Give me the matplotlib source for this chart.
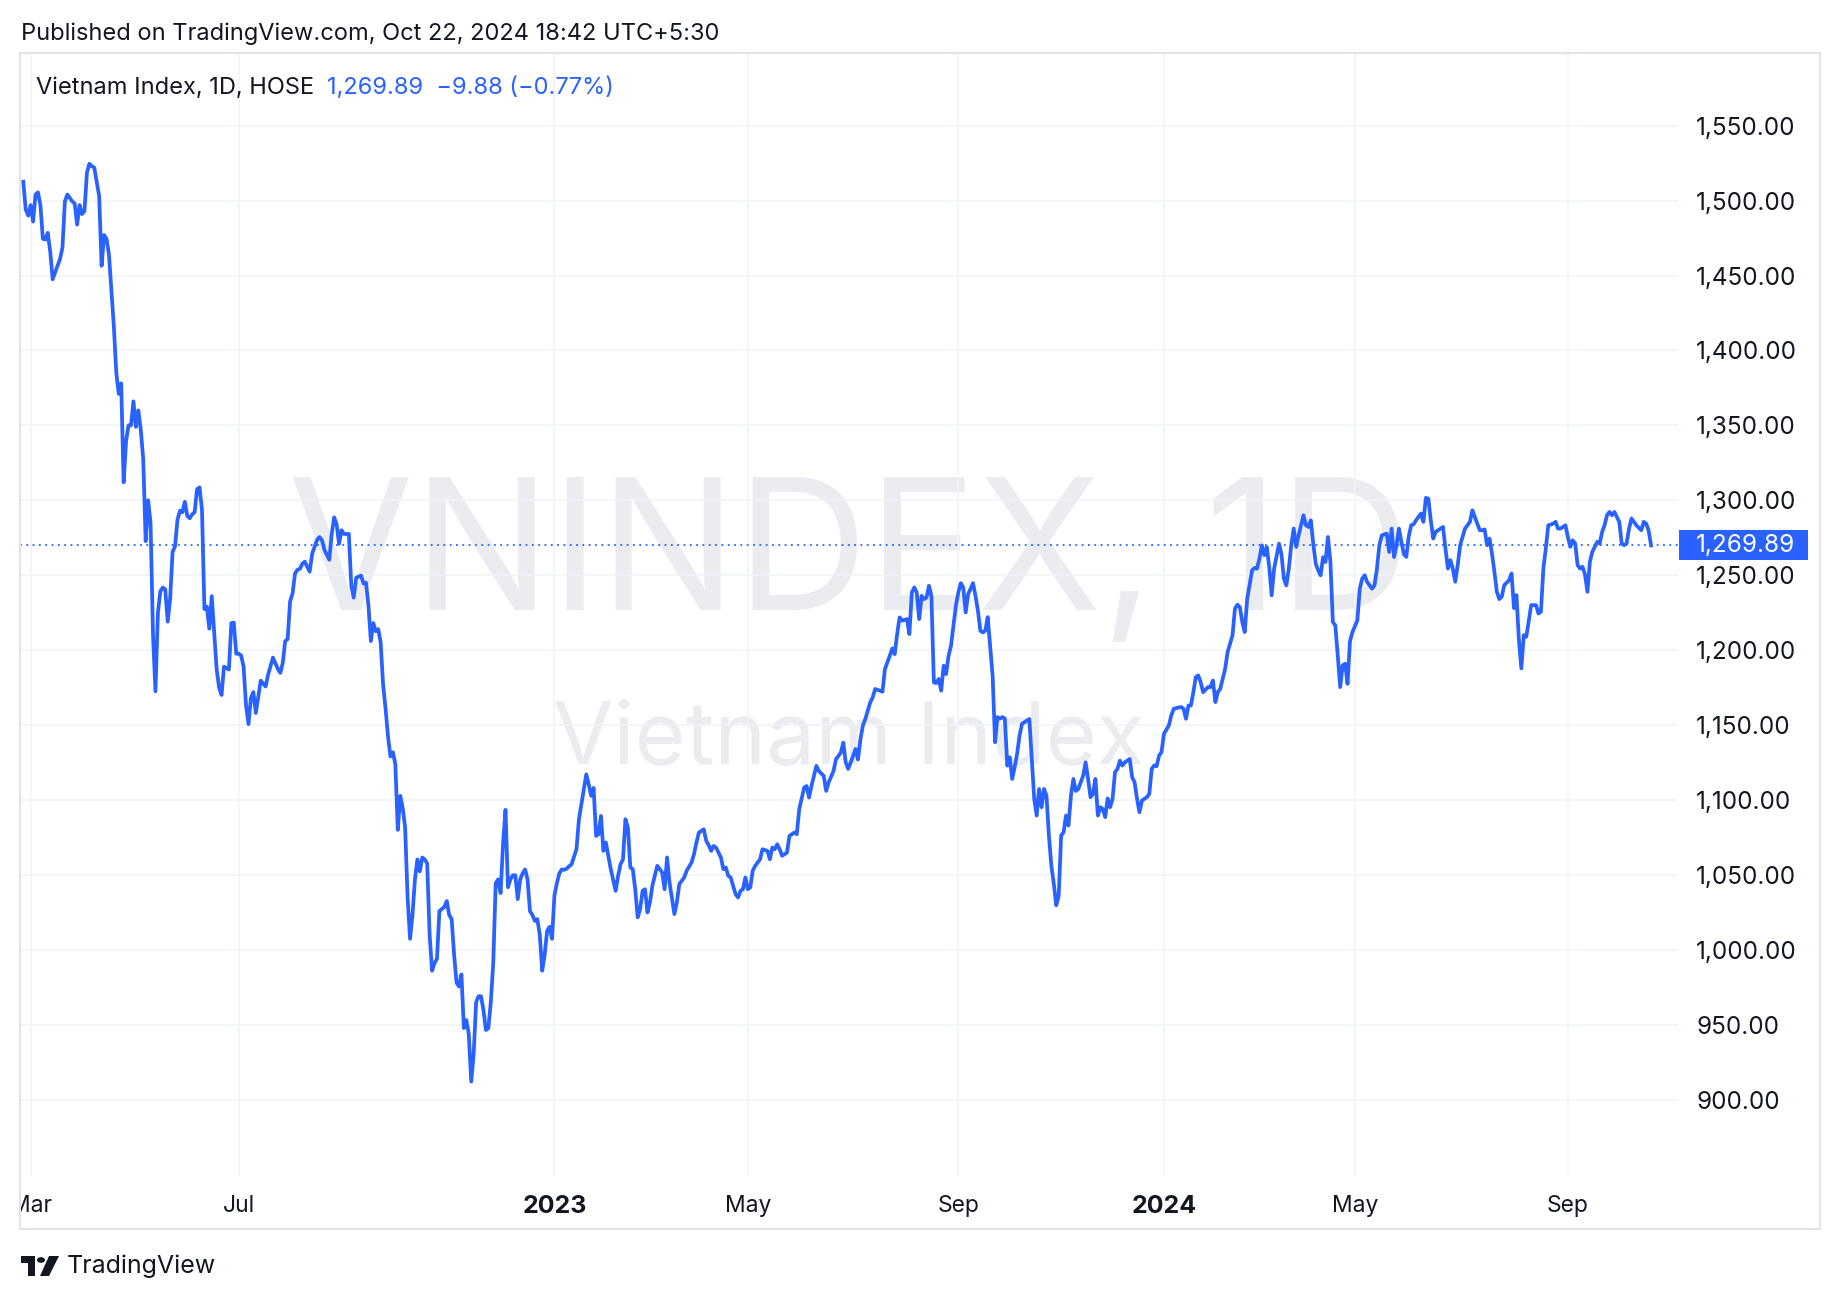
import numpy as np
import matplotlib
matplotlib.use('Agg')
from matplotlib import pyplot as plt
from matplotlib.patches import Rectangle, Circle, Polygon
from matplotlib.transforms import blended_transform_factory

W, H = 1840, 1300

# Daily bars are spaced by trading session, counted from the first bar on the chart;
FIRST_BAR = '2022-02-24'
HOSE_HOLIDAYS = [
    '2022-04-11', '2022-05-02', '2022-05-03', '2022-09-01', '2022-09-02',
    '2023-01-02', '2023-01-20', '2023-01-23', '2023-01-24', '2023-01-25',
    '2023-01-26', '2023-05-01', '2023-05-02', '2023-05-03', '2023-09-01',
    '2023-09-04', '2024-01-01', '2024-02-08', '2024-02-09', '2024-02-12',
    '2024-02-13', '2024-02-14', '2024-04-18', '2024-04-29', '2024-04-30',
    '2024-05-01', '2024-09-02', '2024-09-03',
]

# Time scale labels (first session of each labelled month);
tick_dates = ['2022-03-01', '2022-07-01', '2023-01-03', '2023-05-04',
              '2023-09-05', '2024-01-02', '2024-05-02', '2024-09-04']
tick_labels = ['Mar', 'Jul', '2023', 'May', 'Sep', '2024', 'May', 'Sep']
price_ticks = list(range(900, 1551, 50))

# Closes, keyed by session number;
sess_22a = [0, 1, 2, 3, 4, 5, 6, 7, 8, 9, 10, 11, 12, 14, 15, 16, 17, 18, 20, 21,
            22, 23, 24, 25, 26, 27, 28, 29, 31, 32, 33, 34, 35, 36, 37, 38, 39, 40, 41, 42,
            43, 44, 45, 46, 47, 48, 49, 50, 51, 52, 53, 54, 55, 56, 57, 58, 59, 60, 61, 62,
            63, 64, 65, 66, 67, 68, 69, 70, 71, 72, 73, 74, 75, 76, 77, 78, 79, 80, 81, 82,
            83, 84, 85, 86, 87]
close_22a = [1512.6, 1494.0, 1490.0, 1497.0, 1486.0, 1504.0, 1505.5, 1497.0, 1474.5, 1474.0,
             1478.5, 1466.0, 1447.5, 1456.5, 1461.0, 1468.5, 1499.5, 1504.0, 1499.5, 1498.0,
             1484.0, 1497.0, 1491.0, 1493.0, 1518.6, 1524.6, 1523.0, 1522.0, 1503.0, 1456.5,
             1477.0, 1474.5, 1464.0, 1440.0, 1416.0, 1385.0, 1371.0, 1378.0, 1312.0, 1339.6,
             1350.0, 1350.0, 1366.0, 1349.0, 1360.0, 1347.0, 1327.6, 1272.7, 1300.0, 1284.7,
             1210.0, 1172.5, 1225.0, 1239.3, 1241.7, 1240.5, 1219.0, 1234.6, 1265.6, 1269.2,
             1287.0, 1293.0, 1292.0, 1299.0, 1289.5, 1288.0, 1290.6, 1292.0, 1307.4, 1308.6,
             1294.0, 1227.4, 1229.0, 1214.3, 1236.0, 1212.0, 1187.0, 1175.0, 1170.0, 1189.0,
             1188.0, 1187.0, 1218.0, 1218.3, 1197.6]

sess_22b = [88, 89, 90, 91, 92, 93, 94, 95, 97, 99, 100, 102, 104, 105, 106, 107, 108, 109, 110, 111,
            112, 113, 114, 115, 117, 118, 120, 121, 122, 123, 125, 126, 127, 128, 129, 130, 131, 133, 134, 135,
            136, 138, 139, 140, 141, 142, 143, 144, 145, 146, 147, 148, 149, 150, 151, 152, 153, 154, 155, 156,
            157, 158, 159, 160, 161, 162, 163, 164, 165, 166, 167, 168, 169, 170, 171, 172, 173, 174, 175, 176,
            177, 178, 179, 180, 181, 182, 183, 184, 185, 186, 187, 188, 189, 190, 191, 192, 193, 194, 195, 196,
            197, 198, 199, 200, 201, 202, 203, 204, 205, 206, 207, 208, 209, 210, 211, 212, 213, 214, 215, 216]
close_22b = [1197.6, 1196.4, 1189.0, 1163.0, 1150.6, 1168.0, 1172.0, 1158.0, 1179.6, 1175.7,
             1183.5, 1195.0, 1187.4, 1184.8, 1191.4, 1206.0, 1207.3, 1232.5, 1237.7, 1251.0,
             1253.6, 1254.2, 1257.6, 1259.0, 1252.3, 1264.2, 1273.5, 1275.4, 1273.5, 1267.0,
             1260.3, 1277.5, 1288.6, 1284.0, 1270.9, 1280.0, 1277.5, 1277.5, 1243.0, 1235.0,
             1248.3, 1249.7, 1244.4, 1245.0, 1230.0, 1206.0, 1218.0, 1212.6, 1214.0, 1205.0,
             1176.8, 1161.0, 1142.4, 1129.0, 1131.8, 1123.8, 1080.0, 1102.7, 1094.7, 1081.5,
             1035.0, 1007.3, 1023.2, 1047.0, 1060.3, 1052.3, 1061.6, 1060.3, 1057.6, 1010.0,
             986.0, 991.0, 994.0, 1025.8, 1027.2, 1028.5, 1032.5, 1023.2, 1020.5, 996.7,
             978.0, 975.5, 983.5, 947.7, 953.0, 943.7, 912.0, 930.5, 965.0, 969.0,
             969.0, 959.6, 946.4, 947.7, 965.0, 991.4, 1044.4, 1047.0, 1037.8, 1070.9,
             1093.4, 1041.7, 1047.0, 1049.7, 1049.7, 1033.8, 1047.0, 1051.0, 1053.6, 1047.0,
             1025.8, 1023.2, 1019.2, 1020.5, 1010.0, 986.0, 996.7, 1012.6, 1015.3, 1007.3]

sess_23 = [217, 218, 219, 220, 221, 222, 224, 226, 227, 229, 230, 231, 232, 233, 234, 235, 236, 237, 238, 239,
           240, 242, 243, 244, 245, 246, 247, 248, 249, 250, 251, 252, 253, 254, 255, 256, 257, 259, 260, 261,
           262, 263, 264, 266, 267, 268, 270, 271, 273, 274, 275, 276, 278, 279, 280, 281, 282, 283, 285, 286,
           287, 288, 289, 290, 291, 292, 293, 294, 295, 296, 297, 298, 299, 300, 301, 302, 304, 305, 306, 307,
           308, 309, 310, 311, 312, 313, 315, 316, 317, 319, 320, 321, 322, 324, 325, 327, 328, 329, 331, 332,
           334, 335, 336, 337, 338, 339, 340, 341, 342, 343, 344, 346, 347, 348, 350, 351, 352, 354, 355, 356,
           357, 358, 359, 361, 362, 363, 364, 365, 366, 367, 368, 369, 370, 371, 372, 373, 374, 375, 376, 377,
           378, 379, 380, 381, 382, 383, 384, 385, 386, 388, 389, 390, 391, 392, 393, 394, 396, 397, 398, 399,
           400, 401, 402, 403, 404, 405, 406, 407, 408, 410, 411, 412, 413, 414, 415, 416, 417, 418, 419, 420,
           421, 422, 423, 424, 425, 426, 427, 428, 429, 430, 431, 433, 434, 435, 436, 437, 438, 439, 440, 441,
           442, 443, 444, 445, 446, 447, 448, 449, 450, 452, 453, 454, 455, 456, 457, 459, 460, 461, 462, 463,
           464, 465]
close_23 = [1036.4, 1044.4, 1051.0, 1053.6, 1053.3, 1054.2, 1057.1, 1067.1, 1087.1, 1107.1,
            1117.1, 1110.4, 1102.7, 1108.0, 1076.0, 1077.1, 1089.3, 1066.0, 1071.6, 1062.7,
            1053.8, 1039.3, 1049.3, 1057.1, 1060.4, 1087.1, 1081.6, 1054.9, 1053.8, 1040.4,
            1021.6, 1027.1, 1039.3, 1040.4, 1024.9, 1031.6, 1042.7, 1056.0, 1053.8, 1051.6,
            1040.4, 1061.6, 1044.9, 1023.8, 1031.6, 1043.8, 1048.2, 1052.7, 1058.2, 1063.8,
            1071.6, 1078.2, 1080.4, 1072.7, 1069.8, 1066.0, 1069.3, 1068.2, 1061.6, 1053.8,
            1054.9, 1049.3, 1048.2, 1042.7, 1037.1, 1034.9, 1039.3, 1040.4, 1048.2, 1040.4,
            1041.6, 1052.7, 1056.0, 1058.2, 1060.4, 1067.1, 1066.0, 1060.4, 1068.2, 1067.1,
            1070.4, 1067.1, 1062.7, 1063.8, 1064.9, 1076.0, 1078.2, 1077.1, 1093.8, 1108.2,
            1109.3, 1101.6, 1109.3, 1122.7, 1119.3, 1116.0, 1106.0, 1111.6, 1119.3, 1127.1,
            1131.6, 1138.2, 1125.0, 1120.7, 1125.0, 1129.3, 1134.0, 1127.0, 1140.5, 1149.6,
            1154.0, 1165.1, 1168.4, 1174.0, 1172.9, 1172.2, 1187.3, 1196.2, 1201.1, 1197.3,
            1210.7, 1221.8, 1219.6, 1220.7, 1210.7, 1238.4, 1241.8, 1238.4, 1220.7, 1236.2,
            1234.0, 1235.1, 1242.9, 1236.2, 1178.4, 1178.0, 1180.7, 1172.9, 1189.6, 1184.0,
            1196.2, 1202.9, 1216.2, 1229.6, 1238.4, 1244.7, 1241.8, 1225.1, 1237.3, 1244.7,
            1236.2, 1226.2, 1212.9, 1211.8, 1213.0, 1222.0, 1182.9, 1138.5, 1155.3, 1154.2,
            1155.3, 1154.2, 1122.9, 1128.5, 1114.0, 1121.8, 1130.7, 1142.9, 1150.7, 1153.0,
            1154.0, 1127.0, 1100.7, 1089.6, 1107.3, 1095.1, 1107.3, 1103.0, 1076.2, 1056.0,
            1044.0, 1029.6, 1036.0, 1076.2, 1078.4, 1089.6, 1082.9, 1102.9, 1114.0, 1106.0,
            1107.3, 1116.2, 1125.1, 1114.0, 1101.8, 1104.0, 1114.0, 1089.6, 1095.1, 1094.0,
            1088.5, 1101.0, 1095.1, 1100.7, 1118.4, 1120.7, 1126.2, 1122.9, 1125.1, 1127.3,
            1115.1, 1111.8, 1100.7, 1091.8, 1099.6, 1101.8, 1104.0, 1120.7, 1123.0, 1122.5,
            1129.6, 1131.9]

sess_24 = [466, 468, 469, 470, 471, 473, 474, 475, 476, 477, 478, 479, 480, 481, 482, 484, 485, 486, 487, 488,
           489, 490, 491, 492, 493, 494, 495, 496, 497, 498, 499, 500, 502, 503, 504, 505, 506, 507, 508, 509,
           510, 511, 513, 514, 515, 516, 517, 518, 519, 520, 521, 522, 523, 524, 525, 526, 527, 528, 529, 530,
           531, 532, 533, 534, 535, 536, 537, 538, 539, 540, 541, 542, 543, 545, 546, 547, 548, 549, 551, 552,
           553, 554, 555, 557, 558, 559, 560, 561, 562, 563, 564, 565, 566, 567, 568, 569, 570, 571, 572, 573,
           574, 575, 576, 577, 579, 580, 581, 582, 583, 584, 585, 586, 587, 588, 589, 591, 592, 593, 594, 595,
           596, 597, 598, 599, 600, 601, 602, 603, 604, 605, 607, 608, 609, 610, 611, 612, 613, 614, 615, 616,
           618, 619, 620, 621, 622, 623, 624, 625, 626, 627, 628, 629, 630, 631, 632, 633, 634, 635, 636, 637,
           638, 639, 640, 641, 642, 643, 644, 645, 646, 647, 648, 649, 650, 651, 652, 653, 654, 655, 656, 657,
           658, 659, 661, 662, 663, 664, 665]
close_24 = [1144.1, 1149.7, 1156.4, 1160.8, 1161.3, 1162.0, 1160.8, 1154.1, 1163.0, 1163.0,
            1171.9, 1181.9, 1183.1, 1178.6, 1171.9, 1175.3, 1175.3, 1179.7, 1165.3, 1171.9,
            1174.2, 1180.9, 1187.5, 1198.7, 1204.2, 1209.8, 1227.6, 1230.3, 1228.7, 1218.7,
            1212.0, 1234.3, 1253.2, 1254.8, 1254.3, 1261.0, 1269.9, 1263.3, 1268.8, 1255.5,
            1236.5, 1254.3, 1271.0, 1263.9, 1247.7, 1243.2, 1254.3, 1269.9, 1281.1, 1268.8,
            1276.6, 1283.3, 1290.0, 1283.3, 1282.2, 1286.6, 1271.0, 1257.7, 1253.2, 1249.9,
            1262.0, 1258.8, 1275.5, 1258.8, 1218.7, 1216.5, 1196.4, 1175.3, 1189.8, 1190.9,
            1177.5, 1206.0, 1212.0, 1219.8, 1241.0, 1247.7, 1249.9, 1245.5, 1241.0, 1243.2,
            1254.3, 1269.9, 1276.6, 1277.7, 1265.5, 1281.1, 1262.1, 1269.9, 1281.1, 1272.2,
            1264.0, 1262.2, 1276.0, 1283.3, 1284.0, 1286.7, 1288.9, 1291.1, 1285.6, 1301.6,
            1301.1, 1286.7, 1274.4, 1278.9, 1281.1, 1282.2, 1267.8, 1254.4, 1260.0, 1254.4,
            1245.6, 1256.7, 1270.0, 1275.6, 1281.1, 1285.6, 1293.3, 1288.9, 1284.4, 1280.0,
            1280.0, 1280.5, 1270.0, 1274.4, 1264.4, 1252.2, 1238.9, 1234.0, 1235.6, 1243.3,
            1246.7, 1251.1, 1228.0, 1236.7, 1207.0, 1187.8, 1210.0, 1208.9, 1218.9, 1230.0,
            1230.0, 1224.4, 1225.6, 1254.4, 1267.8, 1283.3, 1283.8, 1284.4, 1285.6, 1281.1,
            1281.1, 1282.2, 1283.3, 1275.6, 1268.9, 1273.3, 1271.1, 1256.7, 1254.4, 1255.6,
            1250.5, 1238.9, 1258.9, 1265.6, 1268.9, 1272.2, 1271.1, 1278.9, 1283.3, 1290.0,
            1292.2, 1290.0, 1292.2, 1288.9, 1285.6, 1271.1, 1270.0, 1271.1, 1281.1, 1287.8,
            1285.6, 1283.3, 1280.0, 1285.6, 1284.4, 1279.77, 1269.89]

change = -9.88
change_pct = -0.77

sessions = sess_22a + sess_22b + sess_23 + sess_24
closes = close_22a + close_22b + close_23 + close_24
assert len(sessions) == len(closes)
last_close = closes[-1]
tick_pos = np.busday_count(FIRST_BAR, tick_dates, holidays=HOSE_HOLIDAYS)

BLUE = '#2962FF'
INK = '#131722'
GRID = '#F0F3FA'

plt.rcParams['font.family'] = ['Inter', 'DejaVu Sans']

fig = plt.figure(figsize=(W / 100, H / 100), dpi=100)
fig.patch.set_facecolor('white')

# Chart pane, in pixels of the 1840x1300 canvas;
left, right, top, bottom = 20, 1678, 53, 1176
ax = fig.add_axes([left / W, 1 - bottom / H, (right - left) / W, (bottom - top) / H])
ax.set_xlim(-1.34, 676)
ax.set_ylim(849, 1598.5)
for sp in ax.spines.values():
    sp.set_visible(False)

ax.set_yticks(price_ticks)
ax.yaxis.set_major_formatter(matplotlib.ticker.FuncFormatter(lambda v, _: f'{v:,.2f}'))
ax.yaxis.tick_right()
ax.tick_params(axis='y', length=0, pad=13, labelsize=17.5, labelcolor=INK)
ax.set_xticks(tick_pos, tick_labels)
ax.tick_params(axis='x', length=0, pad=13.5, labelsize=16.5, labelcolor=INK)
for lbl in ax.get_xticklabels():
    if lbl.get_text().isdigit():
        lbl.set_fontweight('bold')
        lbl.set_fontsize(18)
ax.grid(True, color=GRID, lw=1.2, zorder=0)
ax.set_axisbelow(True)

# Watermark;
ax.text(0.5, 0.504, 'VNINDEX, 1D', transform=ax.transAxes, ha='center', va='baseline',
        fontsize=131, color='#EBECF0', zorder=0.5)
ax.text(0.5, 0.368, 'Vietnam Index', transform=ax.transAxes, ha='center', va='baseline',
        fontsize=63, color='#EBECF0', zorder=0.5)

ax.plot(sessions, closes, color=BLUE, lw=2.7, solid_joinstyle='round', zorder=3)
ax.axhline(last_close, color=BLUE, lw=1.3, ls=(0, (1, 2.5)), zorder=2)

# Last price marker on the price scale;
trans = blended_transform_factory(ax.transAxes, ax.transData)
ax.add_patch(Rectangle((1.0006, last_close - 10), 129 / (right - left), 20, transform=trans,
                       facecolor=BLUE, edgecolor='none', clip_on=False, zorder=4))
ax.annotate(f'{last_close:,.2f}', xy=(1, last_close), xycoords=trans, xytext=(13, 0),
            textcoords='offset points', ha='left', va='center', fontsize=17.5, color='white',
            zorder=5)

# Header and legend;
fig.text(21 / W, 1 - 34 / H, 'Published on TradingView.com, Oct 22, 2024 18:42 UTC+5:30',
         va='center', fontsize=17, color=INK)
name = fig.text(36 / W, 1 - 88 / H, 'Vietnam Index, 1D, HOSE', va='center', fontsize=17, color=INK)
ax.annotate(f'{last_close:,.2f}  \u2212{abs(change):.2f} (\u2212{abs(change_pct):.2f}%)',
            xy=(1, 0.5), xycoords=name, xytext=(9, 0), textcoords='offset points',
            ha='left', va='center', fontsize=17, color=BLUE, annotation_clip=False)

# Cut the first month label at the pane border, then draw the outer frame;
fig.add_artist(Rectangle((0, 1 - 1240 / H), 19.5 / W, 65 / H, transform=fig.transFigure,
                         facecolor='white', edgecolor='none', zorder=5))
fig.add_artist(Rectangle((20 / W, 1 - 1229 / H), 1800 / W, (1229 - 53) / H, transform=fig.transFigure,
                         fill=False, edgecolor='#E0E3EB', lw=1.5, zorder=6))

# TradingView logo;
def fp(x, y):
    return (x / W, 1 - y / H)

logo = dict(transform=fig.transFigure, facecolor=INK, edgecolor='none', zorder=6)
fig.add_artist(Polygon([fp(21, 1256), fp(35, 1256), fp(35, 1263), fp(21, 1263)], **logo))
fig.add_artist(Polygon([fp(28, 1256), fp(35, 1256), fp(35, 1276), fp(28, 1276)], **logo))
fig.add_artist(Circle(fp(41, 1260), 4 / W, **logo))
fig.add_artist(Polygon([fp(49, 1256), fp(59, 1256), fp(49, 1276), fp(40, 1276)], **logo))
fig.text(67 / W, 1 - 1266 / H, 'TradingView', va='center', fontsize=18, color=INK)

fig.savefig('out.png', dpi=100, facecolor='white')
